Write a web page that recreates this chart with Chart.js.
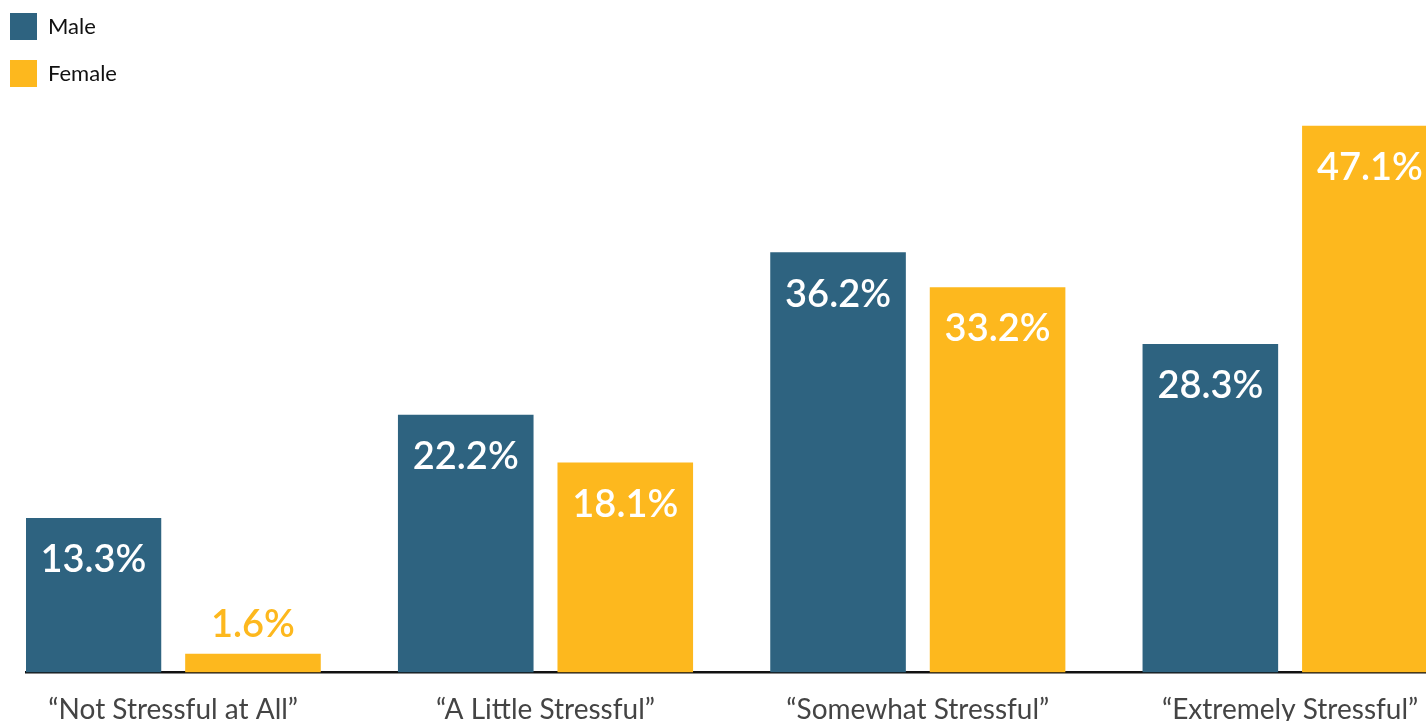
<!DOCTYPE html>
<html>
<head>
<meta charset="utf-8">
<script src="https://cdn.jsdelivr.net/npm/chart.js@4/dist/chart.umd.min.js"></script>
<style>
  html, body { margin: 0; padding: 0; background: #ffffff; overflow: hidden; }
  #wrap { position: relative; width: 1426px; height: 721px; }
</style>
</head>
<body>
<div id="wrap"><canvas id="c"></canvas></div>
<script>
const categories = ['\u201CNot Stressful at All\u201D', '\u201CA Little Stressful\u201D', '\u201CSomewhat Stressful\u201D', '\u201CExtremely Stressful\u201D'];
const seriesNames = ['Male', 'Female'];
const maleValues = [13.3, 22.2, 36.2, 28.3];
const femaleValues = [1.6, 18.1, 33.2, 47.1];
const seriesColors = ['#2E6380', '#FDB81E'];

const FONT = 'Lato, "Noto Sans", sans-serif';

const valueLabels = {
  id: 'valueLabels',
  afterDatasetsDraw(chart) {
    const ctx = chart.ctx;
    ctx.save();
    ctx.font = '600 38px ' + FONT;
    ctx.textAlign = 'center';
    ctx.textBaseline = 'middle';
    chart.data.datasets.forEach((ds, i) => {
      const meta = chart.getDatasetMeta(i);
      meta.data.forEach((bar, j) => {
        const v = ds.data[j].y;
        const txt = v.toFixed(1) + '%';
        const h = bar.base - bar.y;
        if (h > 70) {
          ctx.fillStyle = '#ffffff';
          ctx.fillText(txt, bar.x, bar.y + 42);
        } else {
          ctx.fillStyle = ds.backgroundColor;
          ctx.fillText(txt, bar.x, bar.y - 29);
        }
      });
    });
    ctx.restore();
  }
};

const legendShift = {
  id: 'legendShift',
  afterLayout(chart) {
    const lg = chart.legend;
    if (lg) {
      lg.left = -10;
      lg.top = -7;
      lg.right = lg.left + lg.width;
    }
  }
};

new Chart(document.getElementById('c'), {
  type: 'bar',
  data: {
    datasets: [
      { label: seriesNames[0], data: maleValues.map((v, i) => ({ x: i, y: v })), backgroundColor: seriesColors[0] },
      { label: seriesNames[1], data: femaleValues.map((v, i) => ({ x: i, y: v })), backgroundColor: seriesColors[1] }
    ]
  },
  options: {
    responsive: true,
    maintainAspectRatio: false,
    animation: false,
    devicePixelRatio: 1,
    categoryPercentage: 0.857,
    barPercentage: 0.85,
    layout: { padding: { left: 26, right: 0, top: 11, bottom: -27 } },
    plugins: {
      tooltip: { enabled: false },
      legend: {
        position: 'chartArea',
        align: 'start',
        labels: {
          boxWidth: 27,
          boxHeight: 27,
          padding: 20,
          color: '#111111',
          font: { family: FONT, size: 22 }
        }
      }
    },
    scales: {
      x: {
        type: 'linear',
        offset: false,
        min: -0.3954,
        max: 3.365,
        grid: { display: false, drawTicks: false, offset: false },
        border: { display: true, color: '#111111', width: 2.5 },
        afterBuildTicks(scale) {
          scale.ticks = categories.map((_, i) => ({ value: i }));
        },
        afterFit(scale) {
          scale.paddingLeft = 0;
          scale.paddingRight = 0;
        },
        ticks: {
          autoSkip: false,
          maxRotation: 0,
          padding: 21,
          color: '#444444',
          font: { family: FONT, size: 28 },
          callback: (value) => categories[value]
        }
      },
      y: {
        display: false,
        min: 0,
        max: 57
      }
    }
  },
  plugins: [valueLabels, legendShift]
});
</script>
</body>
</html>
